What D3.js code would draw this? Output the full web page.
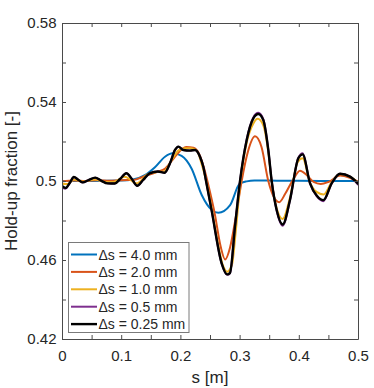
<!DOCTYPE html>
<html>
<head>
<meta charset="utf-8">
<script src="https://cdn.jsdelivr.net/npm/d3@7"></script>
<style>
  html, body { margin: 0; padding: 0; background: #fff; }
  svg { display: block; font-family: "Liberation Sans", Arial, Helvetica, sans-serif; }
</style>
</head>
<body>
<svg id="chart" width="374" height="388"></svg>
<script>
// ---------------- data ----------------
const seriesNames = ["\u0394s = 4.0 mm", "\u0394s = 2.0 mm", "\u0394s = 1.0 mm", "\u0394s = 0.5 mm", "\u0394s = 0.25 mm"];
const seriesColors = ["#0072BD", "#D95319", "#EDB120", "#7E2F8E", "#000000"];

const xTicks = [0, 0.05, 0.1, 0.15, 0.2, 0.25, 0.3, 0.35, 0.4, 0.45, 0.5];
const xTickLabels = ["0", "", "0.1", "", "0.2", "", "0.3", "", "0.4", "", "0.5"];
const yTicks = [0.42, 0.44, 0.46, 0.48, 0.5, 0.52, 0.54, 0.56, 0.58];
const yTickLabels = ["0.42", "", "0.46", "", "0.5", "", "0.54", "", "0.58"];

const sBlue = [0, 0.05, 0.10, 0.118, 0.14, 0.157, 0.174, 0.187, 0.202, 0.219, 0.236, 0.253, 0.264, 0.284, 0.300, 0.312, 0.325, 0.35, 0.40, 0.45, 0.5];
const vBlue = [0.5, 0.5, 0.5002, 0.5006, 0.503, 0.507, 0.5123, 0.514, 0.5127, 0.5062, 0.4929, 0.4853, 0.4839, 0.4878, 0.4986, 0.4998, 0.5002, 0.5002, 0.5001, 0.5, 0.5];

const sOrange = [0, 0.02, 0.04, 0.06, 0.08, 0.10, 0.12, 0.14, 0.16, 0.175, 0.19, 0.20, 0.21, 0.222, 0.232, 0.240, 0.248, 0.258, 0.268, 0.2755, 0.284, 0.293, 0.3035, 0.314, 0.326, 0.337, 0.3485, 0.358, 0.367, 0.377, 0.39, 0.402, 0.414, 0.425, 0.437, 0.45, 0.47, 0.487, 0.5];
const vOrange = [0.4998, 0.5003, 0.5, 0.5004, 0.5001, 0.5004, 0.5005, 0.5025, 0.5045, 0.5065, 0.512, 0.5155, 0.5172, 0.5168, 0.5135, 0.5065, 0.497, 0.4835, 0.4668, 0.4603, 0.4665, 0.4808, 0.5, 0.5148, 0.5226, 0.5172, 0.5, 0.4918, 0.4893, 0.4935, 0.5005, 0.5052, 0.5028, 0.4995, 0.4985, 0.4995, 0.5028, 0.5015, 0.4997];

const sYellow = [0, 0.01, 0.02, 0.035, 0.055, 0.075, 0.087, 0.106, 0.126, 0.145, 0.16, 0.172, 0.185, 0.197, 0.208, 0.218, 0.228, 0.236, 0.244, 0.252, 0.262, 0.2715, 0.279, 0.287, 0.2935, 0.301, 0.312, 0.323, 0.3305, 0.34, 0.3485, 0.354, 0.3626, 0.3725, 0.385, 0.398, 0.4065, 0.419, 0.43, 0.442, 0.455, 0.4696, 0.486, 0.5];
const vYellow = [0.4985, 0.4985, 0.5008, 0.4997, 0.5008, 0.4995, 0.4995, 0.5022, 0.4988, 0.5035, 0.5045, 0.5048, 0.5105, 0.5155, 0.5166, 0.5166, 0.5152, 0.5085, 0.4995, 0.4875, 0.4705, 0.4575, 0.4541, 0.4575, 0.4745, 0.4988, 0.5195, 0.529, 0.5315, 0.5282, 0.5145, 0.5, 0.4862, 0.4808, 0.4915, 0.5095, 0.5115, 0.4992, 0.4945, 0.4932, 0.4992, 0.5036, 0.5022, 0.4992];

const sFine = [0, 0.006, 0.013, 0.020, 0.028, 0.035, 0.045, 0.056, 0.066, 0.077, 0.089, 0.098, 0.1087, 0.118, 0.127, 0.137, 0.148, 0.162, 0.1734, 0.1824, 0.1909, 0.1965, 0.205, 0.2162, 0.2247, 0.2331, 0.2387, 0.2433, 0.2528, 0.2697, 0.279, 0.2838, 0.2922, 0.3007, 0.312, 0.3232, 0.3316, 0.340, 0.3485, 0.3542, 0.3626, 0.3728, 0.3851, 0.3992, 0.4065, 0.419, 0.4305, 0.4415, 0.4555, 0.4696, 0.4865, 0.5];
const vPurple = [0.4968, 0.4961, 0.4989, 0.5019, 0.5005, 0.4993, 0.5005, 0.5017, 0.5002, 0.4988, 0.4987, 0.501, 0.5039, 0.501, 0.4976, 0.5005, 0.5039, 0.5048, 0.5042, 0.509, 0.5157, 0.5174, 0.5157, 0.5154, 0.5157, 0.5123, 0.5072, 0.5, 0.485, 0.4581, 0.4525, 0.4533, 0.4769, 0.5, 0.521, 0.5322, 0.5345, 0.5313, 0.5157, 0.5, 0.4851, 0.4774, 0.4902, 0.5118, 0.5141, 0.4988, 0.4922, 0.4898, 0.4988, 0.5037, 0.5022, 0.4982];
const vBlack = [0.4975, 0.4965, 0.499, 0.502, 0.5005, 0.4993, 0.5005, 0.5017, 0.5002, 0.4988, 0.4987, 0.501, 0.5039, 0.501, 0.4976, 0.5005, 0.5039, 0.5048, 0.5042, 0.509, 0.5157, 0.5174, 0.5157, 0.5154, 0.5157, 0.5123, 0.5072, 0.5, 0.485, 0.4583, 0.4527, 0.4535, 0.4769, 0.5, 0.5208, 0.5317, 0.5339, 0.5309, 0.5157, 0.5, 0.4853, 0.478, 0.4904, 0.5115, 0.5135, 0.4988, 0.4925, 0.4903, 0.4988, 0.5037, 0.5022, 0.4987];

const seriesS = [sBlue, sOrange, sYellow, sFine, sFine];
const seriesV = [vBlue, vOrange, vYellow, vPurple, vBlack];
const seriesWidths = [2, 2, 2, 2, 2.4];

// ---------------- chart ----------------
const svg = d3.select("#chart");
const L = 62, R = 358, T = 23, B = 339;
const x = d3.scaleLinear().domain([0, 0.5]).range([L, R]);
const y = d3.scaleLinear().domain([0.42, 0.58]).range([B, T]);
const textColor = "#262626";
const axisColor = "#4a4a4a";

// clip
svg.append("defs").append("clipPath").attr("id", "clip")
  .append("rect").attr("x", L).attr("y", T).attr("width", R - L).attr("height", B - T);

// lines
const line = d3.line().x(d => x(d[0])).y(d => y(d[1])).curve(d3.curveMonotoneX);
const gLines = svg.append("g").attr("clip-path", "url(#clip)");
seriesNames.forEach((name, i) => {
  const pts = seriesS[i].map((s, j) => [s, seriesV[i][j]]);
  gLines.append("path").datum(pts)
    .attr("d", line)
    .attr("fill", "none")
    .attr("stroke", seriesColors[i])
    .attr("stroke-width", seriesWidths[i])
    .attr("stroke-linejoin", "round")
    .attr("stroke-linecap", "round");
});

// axes
function styleAxis(g) {
  g.select(".domain").attr("stroke", axisColor).attr("stroke-width", 1);
  g.selectAll(".tick line").attr("stroke", axisColor).attr("stroke-width", 1);
  g.selectAll(".tick text").attr("fill", textColor).style("font-size", "15px")
    .style("font-family", "'Liberation Sans', Arial, Helvetica, sans-serif");
}
const xFmt = d => xTickLabels[xTicks.indexOf(d)];
const yFmt = d => yTickLabels[yTicks.indexOf(d)];

svg.append("g").attr("transform", `translate(0,${B})`)
  .call(d3.axisBottom(x).tickValues(xTicks).tickFormat(xFmt).tickSize(-4).tickSizeOuter(0).tickPadding(11))
  .call(styleAxis);
svg.append("g").attr("transform", `translate(0,${T})`)
  .call(d3.axisTop(x).tickValues(xTicks).tickFormat("").tickSize(-4).tickSizeOuter(0))
  .call(styleAxis);
svg.append("g").attr("transform", `translate(${L},0)`)
  .call(d3.axisLeft(y).tickValues(yTicks).tickFormat(yFmt).tickSize(-4).tickSizeOuter(0).tickPadding(5.5))
  .call(styleAxis);
svg.append("g").attr("transform", `translate(${R},0)`)
  .call(d3.axisRight(y).tickValues(yTicks).tickFormat("").tickSize(-4).tickSizeOuter(0))
  .call(styleAxis);

// axis titles
svg.append("text").attr("x", (L + R) / 2).attr("y", 383)
  .attr("text-anchor", "middle").attr("fill", textColor).style("font-size", "17px")
  .text("s [m]");
svg.append("text").attr("transform", `translate(16.5,${(T + B) / 2}) rotate(-90)`)
  .attr("text-anchor", "middle").attr("fill", textColor).style("font-size", "17px")
  .text("Hold-up fraction [-]");

// legend
const lg = svg.append("g");
lg.append("rect").attr("x", 68.5).attr("y", 242.5).attr("width", 120.5).attr("height", 90)
  .attr("fill", "#fff").attr("stroke", "#7a7a7a").attr("stroke-width", 1);
seriesNames.forEach((name, i) => {
  const cy = 254.5 + i * 17.4;
  lg.append("line").attr("x1", 71).attr("x2", 97).attr("y1", cy).attr("y2", cy)
    .attr("stroke", seriesColors[i]).attr("stroke-width", seriesWidths[i]);
  lg.append("text").attr("x", 98.5).attr("y", cy).attr("dy", "0.36em")
    .attr("fill", textColor).style("font-size", "14px").text(name);
});
</script>
</body>
</html>
